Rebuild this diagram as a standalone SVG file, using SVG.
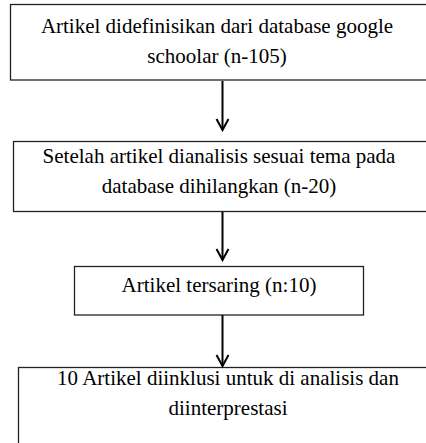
<svg xmlns="http://www.w3.org/2000/svg" width="426" height="443" viewBox="0 0 426 443">
<style>
.box{fill:#fff;stroke:#222;stroke-width:1.3}
.t{font-family:'Liberation Serif',Tinos,'DejaVu Serif',serif;font-size:21px;fill:#000;text-anchor:middle}
.c{stroke:#000;stroke-width:2;fill:none}
</style>
<defs>
<marker id="ah" markerWidth="14" markerHeight="16" refX="12" refY="7" orient="auto" markerUnits="userSpaceOnUse" viewBox="0 0 14 14">
<polyline points="1,1 12,7 1,13" fill="none" stroke="#000" stroke-width="2"/>
</marker>
</defs>
<rect width="426" height="443" fill="#fff"/>
<g id="n1">
<rect class="box" x="10.5" y="4.5" width="430" height="75.5"/>
<text class="t" x="217" y="33">Artikel didefinisikan dari database google</text>
<text class="t" x="217" y="63">schoolar (n-105)</text>
</g>
<g id="n2">
<rect class="box" x="13.5" y="141.5" width="430" height="70"/>
<text class="t" x="219" y="163">Setelah artikel dianalisis sesuai tema pada</text>
<text class="t" x="219" y="193">database dihilangkan (n-20)</text>
</g>
<g id="n3">
<rect class="box" x="74.5" y="266.5" width="289" height="48.5"/>
<text class="t" x="219" y="292">Artikel tersaring (n:10)</text>
</g>
<g id="n4">
<rect class="box" x="18.5" y="367.5" width="430" height="90"/>
<text class="t" x="228" y="385">10 Artikel diinklusi untuk di analisis dan</text>
<text class="t" x="228" y="415">diinterprestasi</text>
</g>
<g id="connectors">
<line class="c" x1="222.5" y1="81" x2="222.5" y2="130" marker-end="url(#ah)"/>
<line class="c" x1="222.5" y1="212" x2="222.5" y2="260" marker-end="url(#ah)"/>
<line class="c" x1="222.5" y1="315" x2="222.5" y2="366" marker-end="url(#ah)"/>
</g>
</svg>
